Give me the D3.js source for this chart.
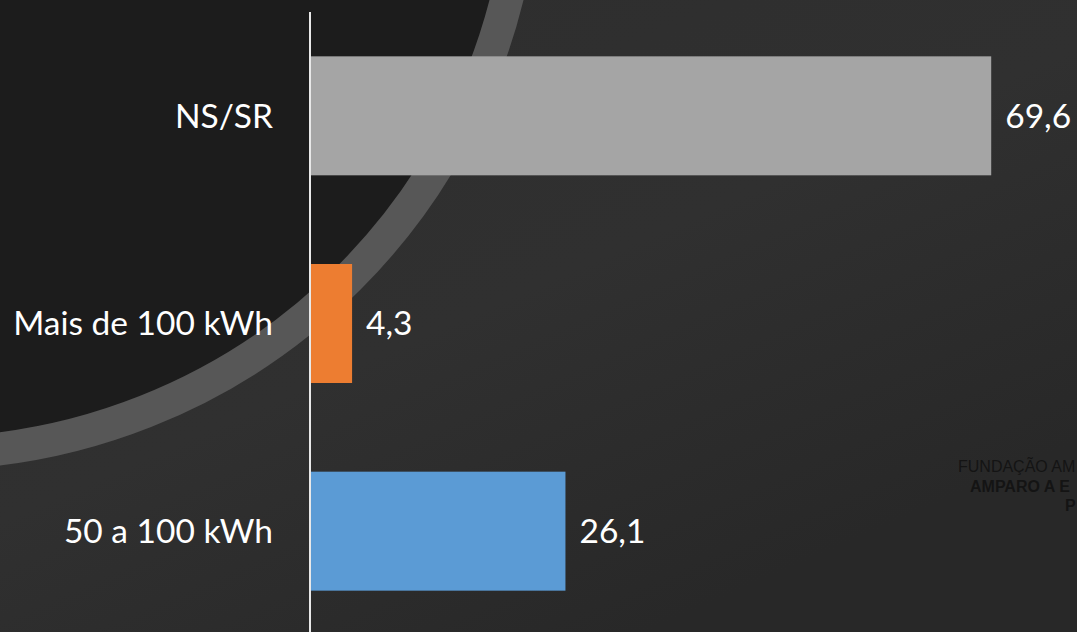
<!DOCTYPE html>
<html><head><meta charset="utf-8">
<script src="https://cdn.jsdelivr.net/npm/d3@7"></script>
<style>html,body{margin:0;padding:0;background:#2c2c2c;overflow:hidden}</style>
</head><body>
<svg id="c" width="1077" height="632"></svg>
<script>
const categories = ["NS/SR", "Mais de 100 kWh", "50 a 100 kWh"];
const values = [69.6, 4.3, 26.1];
const valueLabels = ["69,6", "4,3", "26,1"];
const barColors = ["#a5a5a5", "#ed7d31", "#5b9bd5"];
const watermarkLines = ["FUNDAÇÃO AM", "AMPARO A E", "P"];

const W = 1077, H = 632;
const svg = d3.select("#c");
const defs = svg.append("defs");

// background gradient
const g1 = defs.append("linearGradient").attr("id","bg").attr("x1","0").attr("y1","0.2").attr("x2","0.6").attr("y2","1");
g1.append("stop").attr("offset","0").attr("stop-color","#2e2e2e");
g1.append("stop").attr("offset","0.5").attr("stop-color","#303030");
g1.append("stop").attr("offset","1").attr("stop-color","#282828");
svg.append("rect").attr("width",W).attr("height",H).attr("fill","url(#bg)");

// dark circle with ring
svg.append("circle").attr("cx",-75).attr("cy",-146).attr("r",599.5)
  .attr("fill","#1c1c1c").attr("stroke","#575757").attr("stroke-width",33);

// watermark
const wm = svg.append("g").attr("font-family","'Liberation Sans', Arial, sans-serif").attr("fill","#141414").attr("font-size",16);
wm.append("text").attr("x",958).attr("y",472).text(watermarkLines[0]);
wm.append("text").attr("x",970).attr("y",492).attr("font-weight","bold").text(watermarkLines[1]);
wm.append("text").attr("x",1065).attr("y",511).attr("font-weight","bold").text(watermarkLines[2]);

// scales
const x = d3.scaleLinear().domain([0, 80]).range([310, 1093]);
const y = d3.scaleBand().domain(categories).range([12, 635]).paddingInner(0.427).paddingOuter(0.2135);

const font = "Lato, 'Open Sans', sans-serif";

// bars
svg.append("g").selectAll("rect").data(categories).join("rect")
  .attr("x", x(0))
  .attr("y", d => y(d))
  .attr("width", (d,i) => x(values[i]) - x(0))
  .attr("height", y.bandwidth())
  .attr("fill", (d,i) => barColors[i]);

// axis
const axis = svg.append("g").attr("transform", `translate(${x(0)},0)`)
  .call(d3.axisLeft(y).tickSize(0).tickPadding(37));
axis.select(".domain").attr("stroke","#e8e8e8").attr("stroke-width",2).attr("d", `M0,12V${H+5}`);
axis.selectAll("text").attr("fill","#ffffff").attr("font-family",font).attr("font-size",33.5).attr("dy","0.35em");

// value labels
svg.append("g").selectAll("text").data(categories).join("text")
  .attr("x", (d,i) => x(values[i]) + 14)
  .attr("y", d => y(d) + y.bandwidth()/2)
  .attr("dy","0.35em")
  .attr("fill","#ffffff").attr("font-family",font).attr("font-size",33.5)
  .text((d,i) => valueLabels[i]);
</script>
</body></html>
